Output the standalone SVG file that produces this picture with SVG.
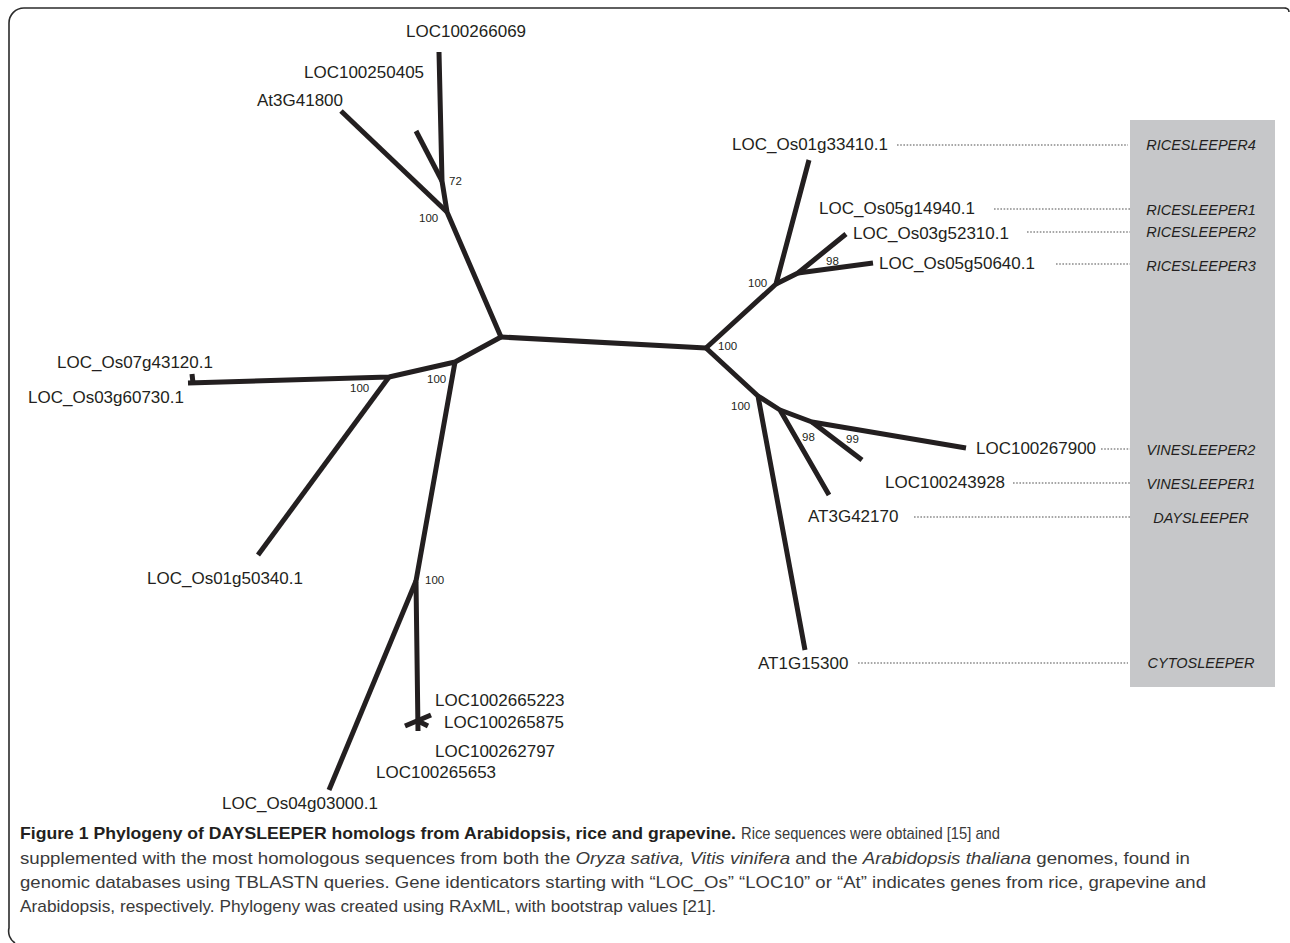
<svg xmlns="http://www.w3.org/2000/svg" width="1290" height="943" viewBox="0 0 1290 943">
<style>
.frame{fill:none;stroke:#2b2b2b;stroke-width:1.6}
.edge{fill:none;stroke:#231f20;stroke-width:5;stroke-linecap:butt;stroke-linejoin:round}
.lbl{font-family:"Liberation Sans",Arial,sans-serif;font-size:17px;fill:#231f20}
.bs{font-family:"Liberation Sans",Arial,sans-serif;font-size:11.5px;fill:#231f20}
.gene{font-family:"Liberation Sans",Arial,sans-serif;font-size:14.5px;font-style:italic;fill:#231f20;text-anchor:middle}
.lead{stroke:#8a8a8a;stroke-width:1.3;stroke-dasharray:1.6 1.6;fill:none}
.cap{font-family:"Liberation Sans",Arial,sans-serif;font-size:17px;fill:#3a3a3a}
.capb{font-family:"Liberation Sans",Arial,sans-serif;font-size:17px;font-weight:bold;fill:#231f20}
</style>
<rect width="1290" height="943" fill="#ffffff"/>
<path class="frame" d="M1286,8 H24 A15,15 0 0 0 9,23 V928 A14,14 0 0 0 15,943 M1284,8 Q1289,8 1289,12"/>
<rect id="gene-box" x="1130" y="120" width="145" height="567" fill="#c6c7c9"/>
<g id="connectors">
<path class="edge" d="M501,337 L706,348"/>
<path class="edge" d="M501,337 L447,212 L442,181 L439,52"/>
<path class="edge" d="M442,181 L416,131"/>
<path class="edge" d="M447,212 L341,111"/>
<path class="edge" d="M501,337 L455,362 L389,377 L188,383"/>
<path class="edge" d="M192,374 L193,383"/>
<path class="edge" d="M389,377 L258,555"/>
<path class="edge" d="M455,362 L416,581 L418,731"/>
<path class="edge" d="M405,726 L431,715 M418,721 L428,726"/>
<path class="edge" d="M416,581 L329,790"/>
<path class="edge" d="M706,348 L776,284 L809,160"/>
<path class="edge" d="M776,284 L798,273 L846,234"/>
<path class="edge" d="M798,273 L873,263"/>
<path class="edge" d="M706,348 L758,396 L805,650"/>
<path class="edge" d="M758,396 L780,410 L829,495"/>
<path class="edge" d="M780,410 L812,422 L966,448"/>
<path class="edge" d="M812,422 L862,460"/>
<path class="lead" d="M897,145 H1128"/>
<path class="lead" d="M994,209 H1130"/>
<path class="lead" d="M1027,232 H1130"/>
<path class="lead" d="M1056,264 H1130"/>
<path class="lead" d="M1101,449 H1130"/>
<path class="lead" d="M1013,483 H1130"/>
<path class="lead" d="M914,517 H1130"/>
<path class="lead" d="M858,663 H1128"/>
</g>
<g id="bootstrap">
<text class="bs" x="449" y="185">72</text>
<text class="bs" x="419" y="222">100</text>
<text class="bs" x="350" y="392">100</text>
<text class="bs" x="427" y="383">100</text>
<text class="bs" x="425" y="584">100</text>
<text class="bs" x="748" y="287">100</text>
<text class="bs" x="826" y="265">98</text>
<text class="bs" x="718" y="350">100</text>
<text class="bs" x="731" y="410">100</text>
<text class="bs" x="802" y="441">98</text>
<text class="bs" x="846" y="443">99</text>
</g>
<g id="leaf-LOC100266069"><text class="lbl" x="406" y="37">LOC100266069</text></g>
<g id="leaf-LOC100250405"><text class="lbl" x="304" y="78">LOC100250405</text></g>
<g id="leaf-At3G41800"><text class="lbl" x="257" y="106">At3G41800</text></g>
<g id="leaf-LOC_Os07g43120"><text class="lbl" x="57" y="368">LOC_Os07g43120.1</text></g>
<g id="leaf-LOC_Os03g60730"><text class="lbl" x="28" y="403">LOC_Os03g60730.1</text></g>
<g id="leaf-LOC_Os01g50340"><text class="lbl" x="147" y="584">LOC_Os01g50340.1</text></g>
<g id="leaf-LOC_Os04g03000"><text class="lbl" x="222" y="809">LOC_Os04g03000.1</text></g>
<g id="leaf-LOC1002665223"><text class="lbl" x="435" y="706">LOC1002665223</text></g>
<g id="leaf-LOC100265875"><text class="lbl" x="444" y="728">LOC100265875</text></g>
<g id="leaf-LOC100262797"><text class="lbl" x="435" y="757">LOC100262797</text></g>
<g id="leaf-LOC100265653"><text class="lbl" x="376" y="778">LOC100265653</text></g>
<g id="leaf-LOC_Os01g33410"><text class="lbl" x="732" y="150">LOC_Os01g33410.1</text></g>
<g id="leaf-LOC_Os05g14940"><text class="lbl" x="819" y="214">LOC_Os05g14940.1</text></g>
<g id="leaf-LOC_Os03g52310"><text class="lbl" x="853" y="239">LOC_Os03g52310.1</text></g>
<g id="leaf-LOC_Os05g50640"><text class="lbl" x="879" y="269">LOC_Os05g50640.1</text></g>
<g id="leaf-LOC100267900"><text class="lbl" x="976" y="454">LOC100267900</text></g>
<g id="leaf-LOC100243928"><text class="lbl" x="885" y="488">LOC100243928</text></g>
<g id="leaf-AT3G42170"><text class="lbl" x="808" y="522">AT3G42170</text></g>
<g id="leaf-AT1G15300"><text class="lbl" x="758" y="669">AT1G15300</text></g>
<g id="gene-names">
<text class="gene" x="1201" y="150">RICESLEEPER4</text>
<text class="gene" x="1201" y="215">RICESLEEPER1</text>
<text class="gene" x="1201" y="237">RICESLEEPER2</text>
<text class="gene" x="1201" y="271">RICESLEEPER3</text>
<text class="gene" x="1201" y="455">VINESLEEPER2</text>
<text class="gene" x="1201" y="489">VINESLEEPER1</text>
<text class="gene" x="1201" y="523">DAYSLEEPER</text>
<text class="gene" x="1201" y="668">CYTOSLEEPER</text>
</g>
<g id="caption">
<text class="capb" x="20" y="839" textLength="716" lengthAdjust="spacingAndGlyphs">Figure 1 Phylogeny of DAYSLEEPER homologs from Arabidopsis, rice and grapevine.</text>
<text class="cap" x="741" y="839" textLength="259" lengthAdjust="spacingAndGlyphs">Rice sequences were obtained [15] and</text>
<text class="cap" x="20" y="864" textLength="1170" lengthAdjust="spacingAndGlyphs">supplemented with the most homologous sequences from both the <tspan font-style="italic">Oryza sativa, Vitis vinifera</tspan> and the <tspan font-style="italic">Arabidopsis thaliana</tspan> genomes, found in</text>
<text class="cap" x="20" y="888" textLength="1186" lengthAdjust="spacingAndGlyphs">genomic databases using TBLASTN queries. Gene identicators starting with “LOC_Os” “LOC10” or “At” indicates genes from rice, grapevine and</text>
<text class="cap" x="20" y="912" textLength="696" lengthAdjust="spacingAndGlyphs">Arabidopsis, respectively. Phylogeny was created using RAxML, with bootstrap values [21].</text>
</g>
</svg>
